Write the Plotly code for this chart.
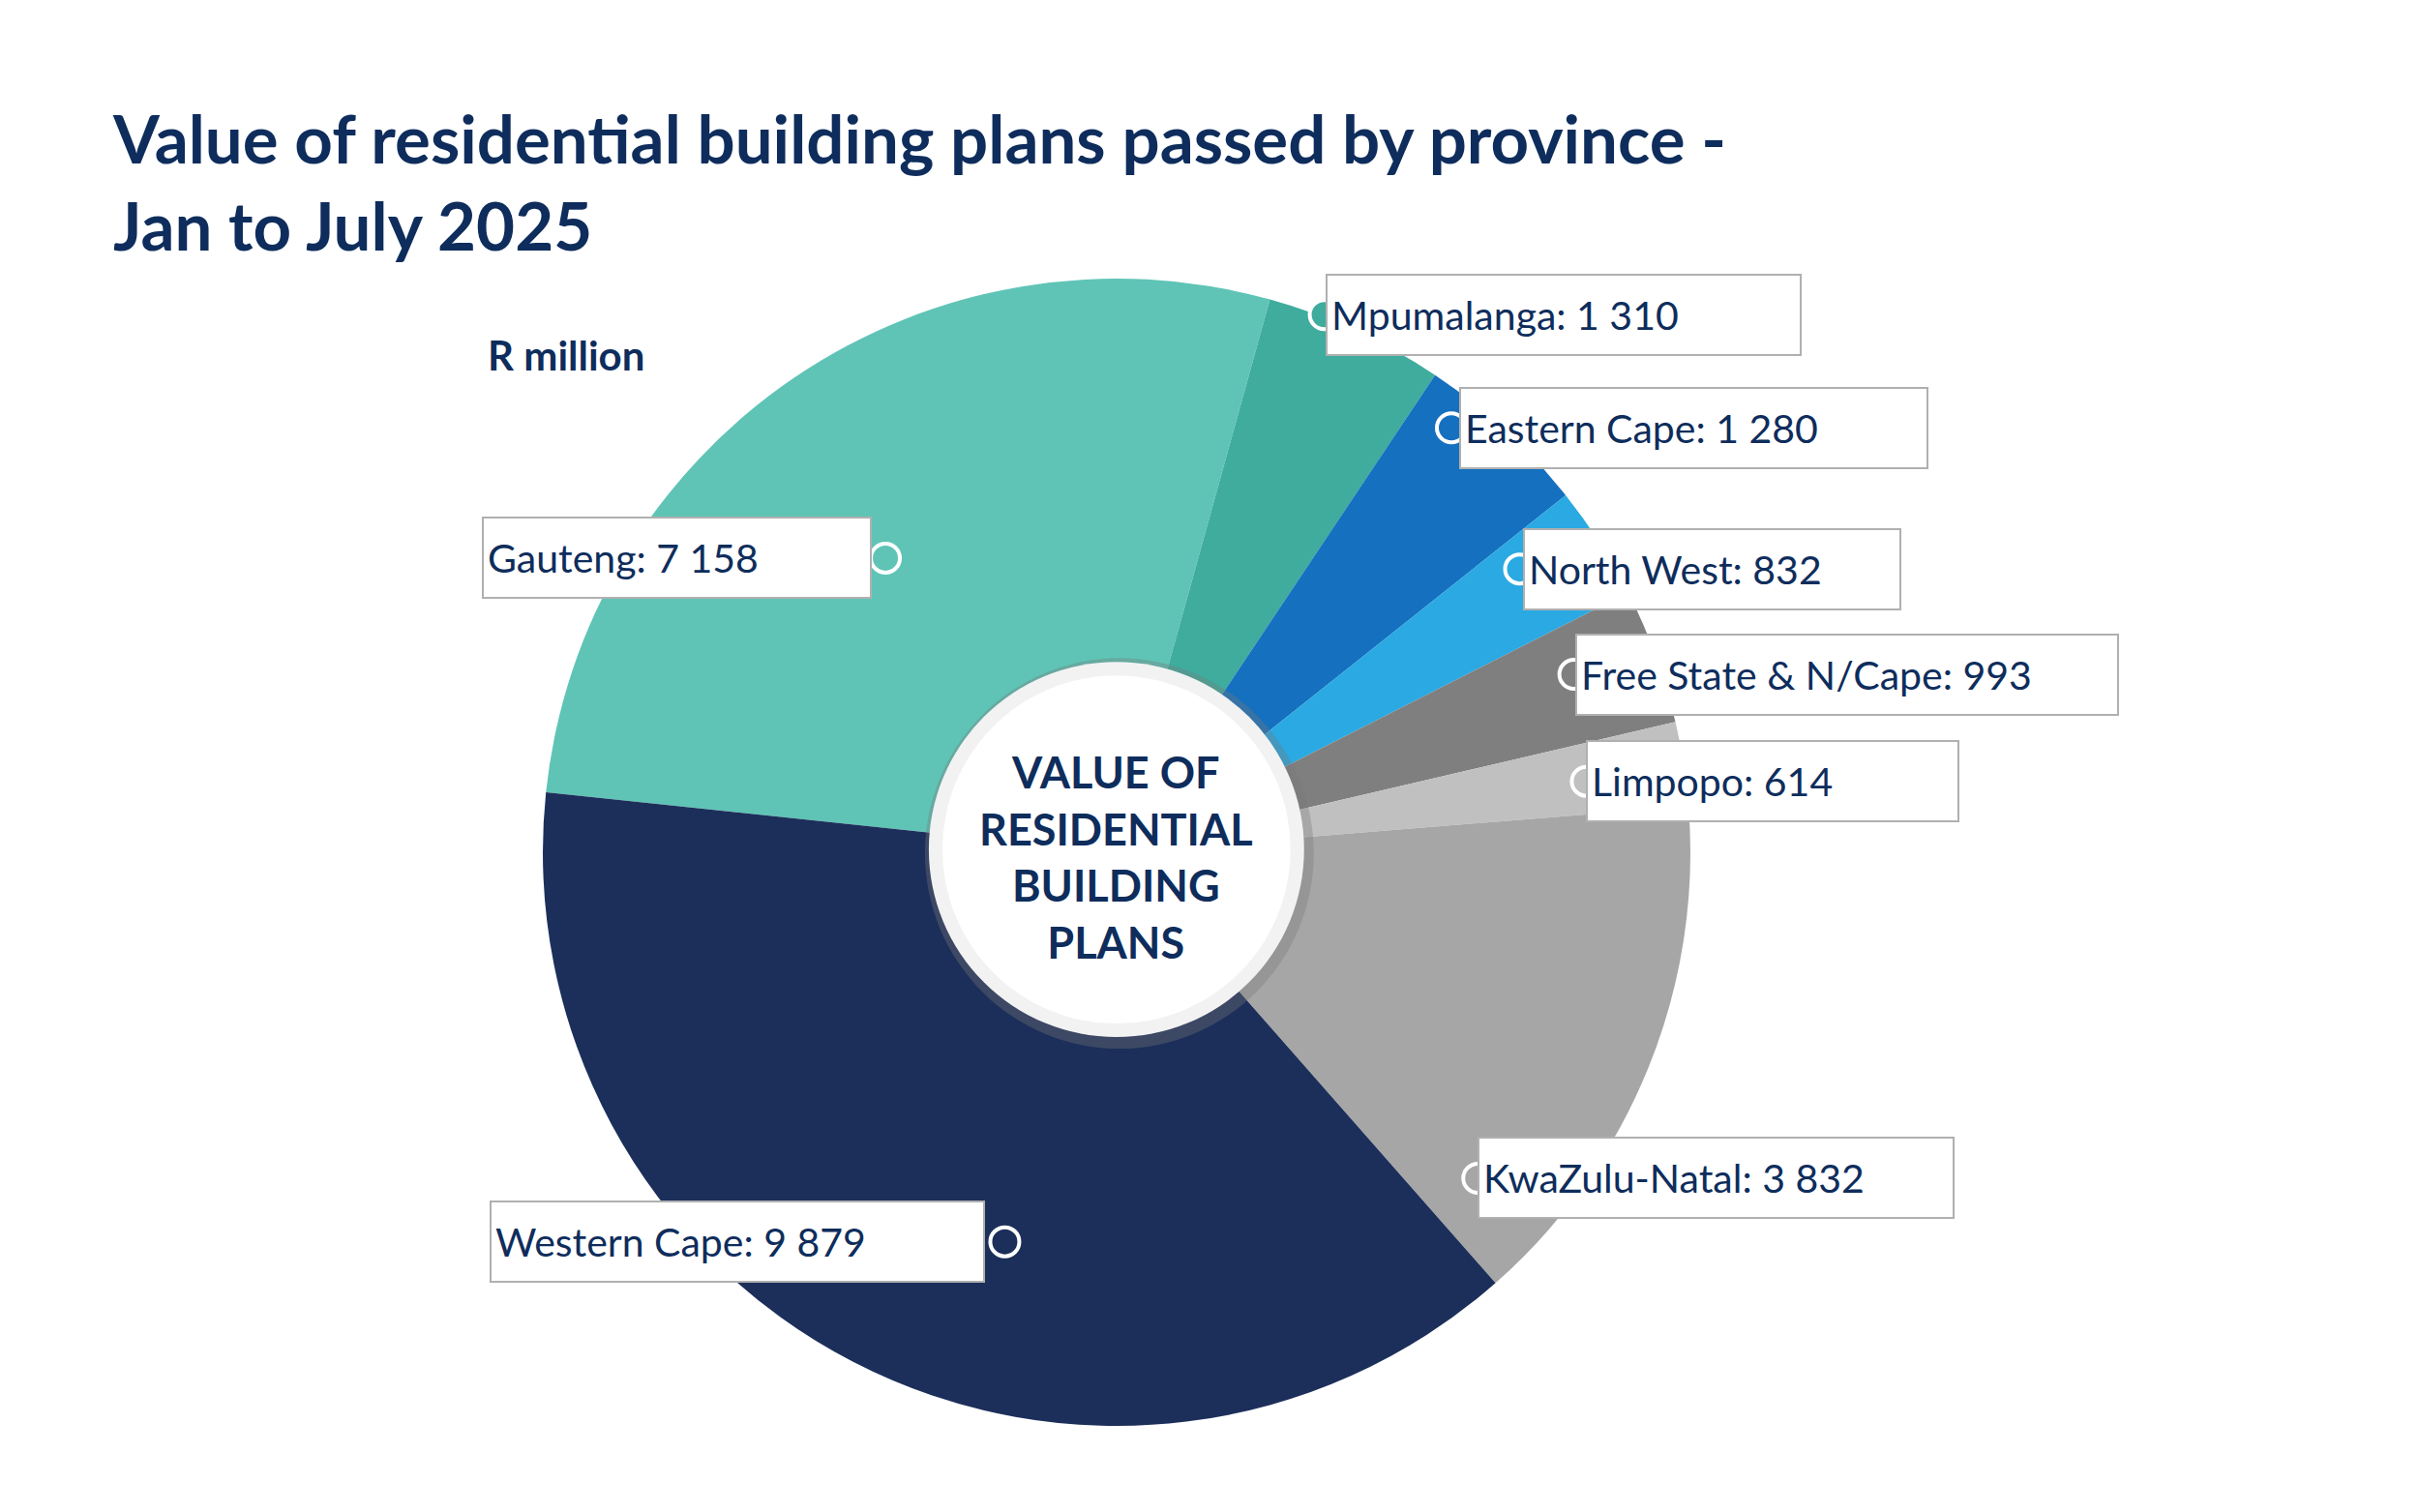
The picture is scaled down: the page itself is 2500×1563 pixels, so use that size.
import plotly.graph_objects as go

provinces = ["Gauteng", "Mpumalanga", "Eastern Cape", "North West", "Free State & N/Cape",
             "Limpopo", "KwaZulu-Natal", "Western Cape"]
values = [7158, 1310, 1280, 832, 993, 614, 3832, 9879]
value_labels = ["7 158", "1 310", "1 280", "832", "993", "614", "3 832", "9 879"]
colors = ["#5fc4b6", "#3fac9e", "#1570bf", "#2aa9e2", "#7f7f7f", "#c0c0c0", "#a6a6a6", "#1c2f5a"]

W, H = 2500, 1563
s = W / 1560.0
navy = "#0e2d5c"

fig = go.Figure()
fig.add_trace(go.Pie(
    labels=provinces, values=values, sort=False, direction="clockwise", rotation=-84,
    marker=dict(colors=colors, line=dict(width=0)), textinfo="none", hoverinfo="label+value",
    showlegend=False,
    domain=dict(x=[(1146 - 593) / W, (1146 + 593) / W], y=[(H - 873 - 593) / H, (H - 873 + 593) / H]),
))
fig.add_trace(go.Scatter(x=[0, W], y=[0, H], mode="markers", marker=dict(opacity=0), hoverinfo="skip", showlegend=False))

# label boxes: (left, right, center y, dot x) in displayed coords
boxes = {
    "Mpumalanga": (850, 1168, 198, 849),
    "Eastern Cape": (936, 1250, 271, 931),
    "North West": (977, 1232, 362, 975),
    "Free State & N/Cape": (1011, 1373, 430, 1010),
    "Limpopo": (1018, 1270, 499, 1018),
    "KwaZulu-Natal": (948, 1267, 755, 948),
    "Western Cape": (311, 642, 796, 643),
    "Gauteng": (306, 569, 355, 566),
}

shapes = []
annotations = []
for p, v, c in zip(provinces, value_labels, colors):
    l, r, cy, dx = boxes[p]
    annotations.append(dict(
        x=l * s, y=cy * s, xref="x", yref="y", xanchor="left", yanchor="middle",
        text=f"{p}: {v}", showarrow=False, align="left", width=(r - l) * s - 30, height=52 * s - 10,
        font=dict(family="Lato", size=41, color=navy), bgcolor="white",
        bordercolor="#b0b0b0", borderwidth=2, borderpad=4,
    ))
    shapes.append(dict(type="circle", xref="x", yref="y", x0=dx * s - 15, x1=dx * s + 15,
                       y0=cy * s - 15, y1=cy * s + 15, fillcolor=c, line=dict(color="white", width=4)))

cx, cy, rr = 715 * s, 543 * s, 121 * s
shapes.insert(0, dict(type="circle", xref="x", yref="y", x0=cx - rr - 4, x1=cx + rr + 10,
                      y0=cy - rr - 4, y1=cy + rr + 12, fillcolor="rgba(120,120,120,0.35)", line=dict(width=0)))
shapes.insert(1, dict(type="circle", xref="x", yref="y", x0=cx - rr, x1=cx + rr,
                      y0=cy - rr, y1=cy + rr, fillcolor="#f2f2f2", line=dict(width=0)))
shapes.insert(2, dict(type="circle", xref="x", yref="y", x0=cx - rr + 14, x1=cx + rr - 14,
                      y0=cy - rr + 14, y1=cy + rr - 14, fillcolor="white", line=dict(width=0)))

annotations += [
    dict(x=cx, y=cy + 8, xref="x", yref="y", showarrow=False,
         text="<b>VALUE OF<br>RESIDENTIAL<br>BUILDING<br>PLANS</b>",
         font=dict(family="Lato", size=45, color=navy)),
    dict(x=66 * s, y=112 * s, xref="x", yref="y", xanchor="left", yanchor="middle", showarrow=False, align="left",
         text="<b>Value of residential building plans passed by province -<br>Jan to July 2025</b>",
         font=dict(family="Lato", size=69, color=navy)),
    dict(x=308 * s, y=224 * s, xref="x", yref="y", xanchor="left", yanchor="middle", showarrow=False,
         text="<b>R million</b>", font=dict(family="Lato", size=42, color=navy)),
]

fig.update_layout(
    width=W, height=H, margin=dict(l=0, r=0, t=0, b=0),
    paper_bgcolor="white", plot_bgcolor="rgba(0,0,0,0)",
    xaxis=dict(range=[0, W], visible=False, fixedrange=True),
    yaxis=dict(range=[H, 0], visible=False, fixedrange=True),
    shapes=shapes, annotations=annotations,
)
fig.write_html("out.html")
